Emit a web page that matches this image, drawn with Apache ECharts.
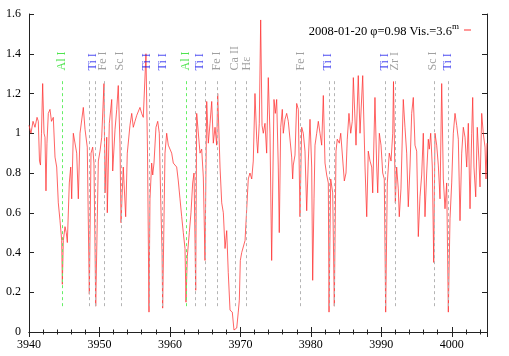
<!DOCTYPE html>
<html><head><meta charset="utf-8">
<script src="https://cdn.jsdelivr.net/npm/echarts@6/dist/echarts.min.js"></script>
<style>html,body{margin:0;padding:0;background:#fff}#c{width:509px;height:356px}</style>
</head><body><div id="c"></div>
<script>
// Spectrum: wavelength (Å) and normalised flux
const wavelengths = [3940.00,3940.28,3940.57,3940.85,3941.14,3941.32,3941.49,3941.63,3941.77,3941.94,3942.13,3942.27,3942.41,3942.55,3942.74,3942.98,3943.19,3943.45,3943.69,3943.93,3944.16,3944.40,3944.64,3944.73,3944.87,3945.11,3945.29,3945.44,3945.72,3945.92,3946.06,3946.29,3946.53,3946.77,3947.00,3947.24,3947.48,3947.71,3947.95,3948.27,3948.56,3948.80,3949.04,3949.22,3949.47,3949.84,3950.08,3950.32,3950.64,3950.79,3951.03,3951.11,3951.40,3951.74,3951.88,3952.21,3952.45,3952.67,3952.91,3953.06,3953.38,3953.72,3953.95,3954.33,3954.58,3954.80,3955.04,3955.29,3955.51,3955.75,3955.99,3956.22,3956.60,3956.82,3957.03,3957.17,3957.41,3957.56,3957.74,3958.02,3958.27,3958.49,3958.69,3958.88,3958.97,3959.30,3959.54,3959.77,3960.01,3960.25,3960.48,3960.72,3960.96,3961.19,3961.43,3961.67,3961.90,3962.14,3962.28,3962.47,3962.75,3962.99,3963.23,3963.42,3963.66,3963.80,3964.03,3964.27,3964.51,3964.74,3964.98,3965.22,3965.45,3965.69,3965.93,3966.16,3966.40,3966.64,3966.78,3967.11,3967.35,3967.58,3967.82,3968.06,3968.28,3968.53,3968.85,3969.09,3969.24,3969.48,3969.70,3969.85,3969.99,3970.19,3970.41,3970.66,3970.90,3971.12,3971.36,3971.61,3971.83,3972.07,3972.32,3972.46,3972.68,3972.88,3973.07,3973.25,3973.49,3973.73,3973.96,3974.20,3974.44,3974.77,3974.96,3975.15,3975.38,3975.52,3975.72,3975.95,3976.09,3976.33,3976.57,3976.80,3977.04,3977.28,3977.42,3977.51,3977.75,3977.99,3978.22,3978.46,3978.70,3978.93,3979.17,3979.41,3979.64,3979.88,3980.12,3980.26,3980.45,3980.59,3980.83,3981.06,3981.30,3981.54,3981.77,3982.01,3982.25,3982.48,3982.58,3982.82,3983.10,3983.33,3983.57,3983.75,3984.04,3984.24,3984.52,3984.75,3984.99,3985.17,3985.41,3985.66,3985.88,3986.03,3986.41,3986.73,3986.98,3987.36,3987.69,3987.93,3988.15,3988.40,3988.64,3988.78,3989.10,3989.35,3989.49,3989.72,3989.96,3990.20,3990.42,3990.62,3990.85,3991.13,3991.38,3991.62,3991.73,3991.99,3992.18,3992.41,3992.55,3992.79,3993.12,3993.36,3993.60,3993.83,3994.07,3994.31,3994.54,3994.78,3995.02,3995.25,3995.49,3995.73,3995.96,3996.20,3996.44,3996.67,3996.81,3997.01,3997.24,3997.44,3997.62,3997.86,3998.09,3998.33,3998.57,3998.80,3999.04,3999.28,3999.51,3999.75,3999.99,4000.22,4000.46,4000.70,4000.93,4001.17,4001.41,4001.64,4001.88,4002.12,4002.35,4002.59,4002.83,4002.97,4003.15,4003.40,4003.62,4003.86,4004.01,4004.25,4004.47,4004.72,4004.86,4005.00];
const flux = [1.04,1.00,1.06,1.03,1.08,1.06,0.86,0.84,1.00,1.25,1.00,0.98,0.71,0.95,1.10,1.12,1.06,1.08,0.88,0.83,0.65,0.56,0.46,0.24,0.46,0.53,0.50,0.45,0.75,0.83,0.67,1.00,1.00,0.90,0.67,1.00,1.00,1.13,1.02,0.93,0.19,0.90,0.93,0.85,0.13,0.86,0.91,0.98,1.25,0.70,0.98,0.60,1.05,1.17,0.81,1.02,1.12,1.24,0.95,0.55,0.83,0.58,0.90,1.04,1.10,1.03,1.06,1.09,1.10,1.13,1.10,1.08,1.40,0.90,0.10,0.67,0.85,0.79,0.85,1.03,1.06,1.00,0.67,0.40,0.12,0.90,1.00,0.94,0.95,0.90,0.85,0.84,0.83,0.76,0.67,0.58,0.50,0.42,0.15,0.38,0.50,0.60,0.75,0.80,0.21,1.10,1.11,0.90,0.92,0.78,0.36,1.16,0.95,1.05,1.16,0.95,1.03,0.94,1.20,0.83,0.65,0.60,0.42,0.51,0.30,0.11,0.10,0.01,0.00,0.02,0.10,0.16,0.36,0.40,0.40,0.46,0.62,0.77,0.80,0.77,0.86,1.20,0.97,0.90,1.05,1.57,1.04,1.00,1.05,0.90,1.28,1.00,0.36,1.17,1.10,1.17,0.83,0.50,1.03,1.12,1.00,1.07,1.10,1.06,1.06,0.88,0.77,0.84,0.89,1.15,1.12,0.58,1.03,1.00,0.91,0.61,0.86,1.07,0.83,0.26,0.67,0.94,1.00,1.06,1.00,0.94,1.19,0.85,0.79,0.75,0.10,0.77,0.70,0.13,0.91,0.97,0.95,1.00,1.01,0.76,0.80,0.97,1.10,1.00,1.06,1.28,0.94,1.29,1.00,1.29,0.83,0.58,0.91,0.86,0.83,0.70,1.18,0.83,0.70,1.00,0.94,0.80,0.77,0.10,0.75,0.90,0.86,1.00,1.26,0.65,0.83,0.72,0.58,0.72,1.17,1.03,0.90,0.63,0.83,1.10,1.18,0.94,0.91,0.48,0.68,0.79,1.00,0.58,0.80,0.97,0.92,1.00,0.83,0.35,1.00,0.94,0.84,0.67,1.25,0.77,0.62,0.75,0.10,0.57,0.75,1.00,1.10,1.04,0.97,0.56,0.90,1.03,0.98,0.83,1.05,0.62,1.00,1.18,0.83,0.68,1.03,0.86,0.73,1.10,1.00,0.93,0.77,0.95];

// Identified line positions (dashed markers)
const markerWaves = [3944.73,3948.56,3949.41,3950.64,3953.06,3957.07,3958.98,3962.28,3963.66,3965.08,3966.78,3969.28,3970.90,3978.53,3982.61,3983.33,3990.57,3991.99,3997.45,3999.51];
const markerElements = ['Al','Ti','Ti','Fe','Sc','Ti','Ti','Al','Ti','Ti','Fe','Ca','H','Fe','Ti','Ti','Ti','Zr','Sc','Ti'];

// Line identification labels
const labelTexts = ['Al I','Ti I','Fe I','Sc I','Ti I','Ti I','Al I','Ti I','Fe I','Ca II','Hε','Fe I','Ti I','Ti I','Zr I','Sc I','Ti I'];
const labelWaves = [3944.73,3949.13,3950.54,3952.91,3956.75,3958.97,3962.28,3964.27,3966.72,3969.24,3970.90,3978.56,3982.48,3990.52,3991.94,3997.38,3999.51];

const legendTitle = '2008-01-20 φ=0.98 Vis.=3.6';
const legendSup = 'm';

const xMin = 3940, xMax = 4005, xStep = 10;
const yMin = 0, yMax = 1.6, yStep = 0.2;

const FONT = 'Liberation Serif';
function labelColor(t){ if (t.startsWith('Al')) return '#22dd22'; if (t.startsWith('Ti')) return '#1a1aee'; return '#888888'; }
function markerColor(e){ return e === 'Al' ? '#66ee66' : '#b4b4b4'; }

const chart = echarts.init(document.getElementById('c'), null, {renderer:'canvas'});
const axisLine = {show:true, lineStyle:{color:'#222', width:1}};
const seriesName = 'spec';
const option = {
  animation:false,
  backgroundColor:'#fff',
  grid:{left:29, right:22, top:14, bottom:24, show:false},
  legend:{
    data:[seriesName], right:33, top:17, align:'right', icon:'rect', itemWidth:7, itemHeight:1,
    formatter:()=>'{a|'+legendTitle+'}{b|'+legendSup+'}',
    textStyle:{fontFamily:FONT, color:'#000', rich:{a:{fontFamily:FONT,fontSize:12.5,color:'#000',lineHeight:16,verticalAlign:'bottom'}, b:{fontFamily:FONT,fontSize:9,color:'#000',lineHeight:16,verticalAlign:'top', padding:[0,0,8,0]}}}
  },
  xAxis:[
    {type:'value', min:xMin, max:xMax, interval:xStep, position:'bottom', axisLine:axisLine,
     axisTick:{show:true, inside:true, length:5, lineStyle:{color:'#222'}},
     minorTick:{show:true, splitNumber:5, length:2.5, lineStyle:{color:'#222'}},
     splitLine:{show:false}, minorSplitLine:{show:false},
     axisLabel:{show:true, fontFamily:FONT, fontSize:12, color:'#000', margin:7, showMaxLabel:false, formatter:v=>String(v)}},
    {type:'value', min:xMin, max:xMax, interval:xStep, position:'top', axisLine:axisLine,
     axisTick:{show:true, inside:true, length:5, lineStyle:{color:'#222'}},
     minorTick:{show:true, splitNumber:5, length:2.5, lineStyle:{color:'#222'}},
     splitLine:{show:false}, axisLabel:{show:false}}
  ],
  yAxis:[
    {type:'value', min:yMin, max:yMax, interval:yStep, position:'left', axisLine:axisLine,
     axisTick:{show:true, inside:true, length:5, lineStyle:{color:'#222'}},
     splitLine:{show:false},
     axisLabel:{show:true, fontFamily:FONT, fontSize:12, color:'#000', margin:8, formatter:v=>String(Math.round(v*10)/10)}},
    {type:'value', min:yMin, max:yMax, interval:yStep, position:'right', axisLine:axisLine,
     axisTick:{show:true, inside:true, length:5, lineStyle:{color:'#222'}},
     splitLine:{show:false}, axisLabel:{show:false}}
  ],
  series:[
    {type:'line', name:'markers', data:[], silent:true, z:1,
     markLine:{silent:true, symbol:['none','none'], animation:false, label:{show:false},
       data: markerWaves.map((w,i)=>[
         {coord:[w,0.13], lineStyle:{color:markerColor(markerElements[i]), type:[3,3], width:1}},
         {coord:[w,1.275]}
       ])}},
    {type:'line', name:seriesName, data: wavelengths.map((w,i)=>[w,flux[i]]), showSymbol:false, symbol:'none',
     lineStyle:{color:'#ff3030', width:0.75}, itemStyle:{color:'#ff3030'}, z:3, clip:true},
    {type:'scatter', name:'labels', symbolSize:0, silent:true, z:4,
     data: labelWaves.map((w,i)=>({value:[w,1.316], label:{show:true, formatter:labelTexts[i], color:labelColor(labelTexts[i])}})),
     label:{show:true, position:'inside', rotate:90, align:'left', verticalAlign:'middle', fontFamily:FONT, fontSize:12}}
  ]
};
chart.setOption(option);
</script></body></html>
